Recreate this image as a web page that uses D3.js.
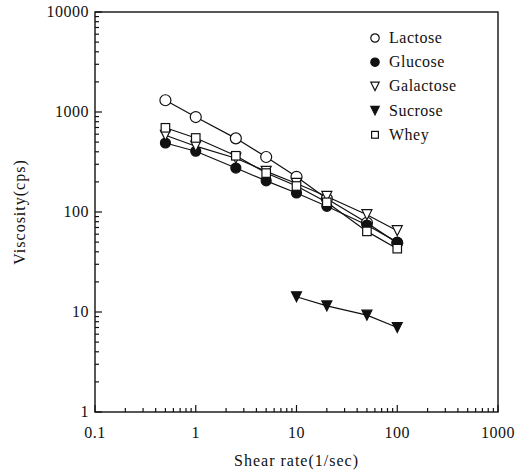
<!DOCTYPE html>
<html>
<head>
<meta charset="utf-8">
<script src="https://cdn.jsdelivr.net/npm/d3@7"></script>
<style>
  body { margin: 0; background: #fff; }
  svg text { font-family: "Liberation Serif", "DejaVu Serif", serif; fill: #111; }
</style>
</head>
<body>
<div id="chart"></div>
<script>
// data
const shearRate = [0.5, 1, 2.5, 5, 10, 20, 50, 100];
const lactose   = [1310, 890, 545, 355, 225, 136, 78, 49];
const glucose   = [490, 405, 275, 205, 155, 114, 74, 50];
const galactose = [585, 455, 345, 255, 193, 143, 94, 65];
const whey      = [695, 550, 365, 245, 182, 125, 64, 43];
const sucroseRate = [10, 20, 50, 100];
const sucrose     = [14.2, 11.5, 9.3, 7.0];

const xTicks = [0.1, 1, 10, 100, 1000];
const yTicks = [1, 10, 100, 1000, 10000];

const series = [
    { name: "Lactose",   x: shearRate,   y: lactose,   marker: "openCircle" },
    { name: "Glucose",   x: shearRate,   y: glucose,   marker: "filledCircle" },
    { name: "Galactose", x: shearRate,   y: galactose, marker: "openTriangle" },
    { name: "Sucrose",   x: sucroseRate, y: sucrose,   marker: "filledTriangle" },
    { name: "Whey",      x: shearRate,   y: whey,      marker: "openSquare" }
];

const width = 517, height = 471;
const m = { left: 95, right: 498, top: 12, bottom: 412 };

const svg = d3.select("#chart").append("svg")
    .attr("width", width)
    .attr("height", height);

const x = d3.scaleLog().domain([0.1, 1000]).range([m.left, m.right]);
const y = d3.scaleLog().domain([1, 10000]).range([m.bottom, m.top]);

// minor ticks 2..9 in every decade
function minorTicks(lo, hi) {
    const out = [];
    for (let d = lo; d < hi; d *= 10) {
        for (let k = 2; k <= 9; k++) out.push(d * k);
    }
    return out;
}

// frame
svg.append("rect")
    .attr("x", m.left).attr("y", m.top)
    .attr("width", m.right - m.left).attr("height", m.bottom - m.top)
    .attr("fill", "none").attr("stroke", "#111").attr("stroke-width", 1.4);

// x axis ticks (inward)
const xAxis = svg.append("g").attr("stroke", "#111").attr("stroke-width", 1.2);
xAxis.selectAll("line.major").data(xTicks).enter().append("line")
    .attr("x1", d => x(d)).attr("x2", d => x(d))
    .attr("y1", m.bottom).attr("y2", m.bottom - 7);
xAxis.selectAll("line.minor").data(minorTicks(0.1, 1000)).enter().append("line")
    .attr("x1", d => x(d)).attr("x2", d => x(d))
    .attr("y1", m.bottom).attr("y2", m.bottom - 4);

svg.append("g").selectAll("text").data(xTicks).enter().append("text")
    .attr("x", d => x(d)).attr("y", m.bottom + 26)
    .attr("text-anchor", "middle")
    .style("font-size", "16px")
    .style("letter-spacing", "0.5px")
    .text(d => d3.format("")(d));

// y axis ticks (inward)
const yAxis = svg.append("g").attr("stroke", "#111").attr("stroke-width", 1.2);
yAxis.selectAll("line.major").data(yTicks).enter().append("line")
    .attr("x1", m.left).attr("x2", m.left + 7)
    .attr("y1", d => y(d)).attr("y2", d => y(d));
yAxis.selectAll("line.minor").data(minorTicks(1, 10000)).enter().append("line")
    .attr("x1", m.left).attr("x2", m.left + 4)
    .attr("y1", d => y(d)).attr("y2", d => y(d));

svg.append("g").selectAll("text").data(yTicks).enter().append("text")
    .attr("x", m.left - 6).attr("y", d => y(d) + 5)
    .attr("text-anchor", "end")
    .style("font-size", "16px")
    .style("letter-spacing", "0.5px")
    .text(d => d3.format("")(d));

// axis titles
svg.append("text")
    .attr("transform", "translate(25," + ((m.top + m.bottom) / 2) + ") rotate(-90)")
    .attr("text-anchor", "middle")
    .style("font-size", "16px")
    .style("letter-spacing", "1px")
    .text("Viscosity(cps)");

svg.append("text")
    .attr("x", (m.left + m.right) / 2).attr("y", 466)
    .attr("text-anchor", "middle")
    .style("font-size", "16px")
    .style("letter-spacing", "1px")
    .text("Shear rate(1/sec)");

// marker drawing
function drawMarker(g, type, size) {
    const s = size;
    if (type === "openCircle" || type === "filledCircle") {
        g.append("circle").attr("r", s)
            .attr("fill", type === "openCircle" ? "#fff" : "#111")
            .attr("stroke", "#111").attr("stroke-width", 1.2);
    } else if (type === "openTriangle" || type === "filledTriangle") {
        const h = s * 1.0;
        g.append("path")
            .attr("d", `M${-s},${-h} L${s},${-h} L0,${h} Z`)
            .attr("fill", type === "openTriangle" ? "#fff" : "#111")
            .attr("stroke", "#111").attr("stroke-width", 1.2);
    } else if (type === "openSquare") {
        g.append("rect").attr("x", -s * 0.85).attr("y", -s * 0.85)
            .attr("width", s * 1.7).attr("height", s * 1.7)
            .attr("fill", "#fff").attr("stroke", "#111").attr("stroke-width", 1.2);
    }
}

const line = d3.line().x(d => x(d[0])).y(d => y(d[1]));

// lines first, markers on top
series.forEach(s => {
    const pts = s.x.map((v, i) => [v, s.y[i]]);
    svg.append("path")
        .datum(pts)
        .attr("d", line)
        .attr("fill", "none")
        .attr("stroke", "#111")
        .attr("stroke-width", 1.2);
});

series.forEach(s => {
    const pts = s.x.map((v, i) => [v, s.y[i]]);
    svg.append("g").selectAll("g").data(pts).enter().append("g")
        .attr("transform", d => `translate(${x(d[0])},${y(d[1])})`)
        .each(function() { drawMarker(d3.select(this), s.marker, s.marker === "openCircle" ? 5.5 : 5); });
});

// legend
const legend = svg.append("g");
series.forEach((s, i) => {
    const ly = 38 + i * 24.2;
    const g = legend.append("g").attr("transform", `translate(375,${ly})`);
    drawMarker(g, s.marker, s.marker === "openSquare" ? 4 : 4.2);
    legend.append("text")
        .attr("x", 389).attr("y", ly + 5)
        .style("font-size", "16px")
        .style("letter-spacing", "0.5px")
        .text(s.name);
});
</script>
</body>
</html>
